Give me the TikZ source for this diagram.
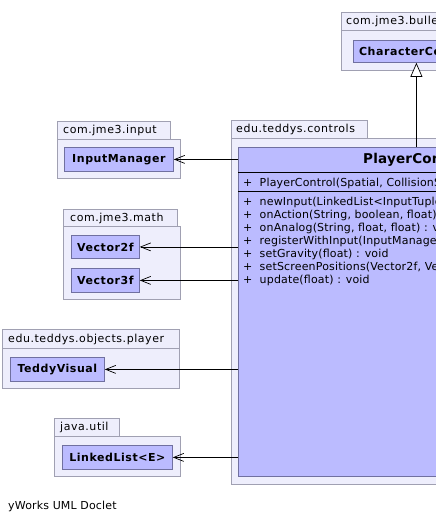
\documentclass[tikz,border=0pt]{standalone}
\usepackage{fontspec}
\setmainfont{DejaVu Sans}
\newfontfamily\umlfont[LetterSpace=5]{DejaVu Sans}
\newfontfamily\memfont[LetterSpace=1.5]{DejaVu Sans}
\usetikzlibrary{arrows.meta}
\definecolor{pkgfill}{RGB}{238,238,252}
\definecolor{pkgdraw}{RGB}{160,160,178}
\definecolor{clsfill}{RGB}{187,187,255}
\definecolor{clsdraw}{RGB}{112,112,160}
\begin{document}
\begin{tikzpicture}[x=1pt,y=-1pt,
 pkg/.style={draw=pkgdraw, fill=pkgfill, line width=0.8pt},
 pkgtxt/.style={anchor=west, inner sep=0pt, font=\umlfont\fontsize{11}{12}\selectfont},
 cls/.style={draw=clsdraw, fill=clsfill, line width=0.8pt, anchor=north west, inner sep=0pt, font=\umlfont\bfseries\fontsize{11}{12}\selectfont},
 dep/.style={-{Straight Barb[length=10pt,width=8pt]}, line width=0.7pt},
 inh/.style={-{Triangle[open,length=14pt,width=12pt,fill=white]}, line width=0.7pt},
 sep/.style={line width=0.8pt, draw=black},
 mem/.style={anchor=west, inner sep=0pt, font=\memfont\fontsize{11}{12}\selectfont}]
\useasboundingbox (0,0) rectangle (436,522);
\clip (0,0) rectangle (436,522);
\fill[white] (0,0) rectangle (436,522);

% com.jme3.bullet.control
\draw[pkg] (341,30) rectangle (500,70);
\draw[pkg] (341,12) rectangle (500,30);
\node[pkgtxt] (pbul) at (346,21) {com.jme3.bullet.control};
\node[cls, minimum width=126pt, minimum height=22pt] (cc) at (353,40) {CharacterControl};

% edu.teddys.controls
\draw[pkg] (231,138) rectangle (640,484);
\draw[pkg] (231,120) rectangle (367,138);
\node[pkgtxt] (pctl) at (236,129) {edu.teddys.controls};
\node[cls, minimum width=400pt, minimum height=329pt] (pc) at (238,147) {};
\node[anchor=west, inner sep=0pt, font=\memfont\bfseries\fontsize{13.5}{16}\selectfont] (pct) at (363,160) {PlayerControl};
\draw[sep] ([yshift=-25.5pt]pc.north west) -- ([yshift=-25.5pt]pc.north east);
\draw[sep] ([yshift=-44pt]pc.north west) -- ([yshift=-44pt]pc.north east);
\node[mem] (m0) at (243,183) {+\ \ PlayerControl(Spatial, CollisionShape, float)};
\node[mem] (m1) at (243,202) {+\ \ newInput(LinkedList<InputTuple>) : void};
\node[mem] (m2) at (243,215) {+\ \ onAction(String, boolean, float) : void};
\node[mem] (m3) at (243,228) {+\ \ onAnalog(String, float, float) : void};
\node[mem] (m4) at (243,241) {+\ \ registerWithInput(InputManager) : void};
\node[mem] (m5) at (243,254) {+\ \ setGravity(float) : void};
\node[mem] (m6) at (243,267) {+\ \ setScreenPositions(Vector2f, Vector3f) : void};
\node[mem] (m7) at (243,280) {+\ \ update(float) : void};

% com.jme3.input
\draw[pkg] (57,139) rectangle (180,178);
\draw[pkg] (57,121) rectangle (170,139);
\node[pkgtxt] (pin) at (63,130) {com.jme3.input};
\node[cls, minimum width=109pt, minimum height=24pt] (im) at (64,147) {InputManager};

% com.jme3.math
\draw[pkg] (63,226) rectangle (180,299);
\draw[pkg] (63,209) rectangle (177,226);
\node[pkgtxt] (pmath) at (70,218) {com.jme3.math};
\node[cls, minimum width=68pt, minimum height=23pt] (v2) at (71,235) {Vector2f};
\node[cls, minimum width=68pt, minimum height=24pt] (v3) at (71,268) {Vector3f};

% edu.teddys.objects.player
\draw[pkg] (2,348) rectangle (179,388);
\draw[pkg] (2,329) rectangle (179,348);
\node[pkgtxt] (ppl) at (8,339) {edu.teddys.objects.player};
\node[cls, minimum width=94pt, minimum height=24pt] (tv) at (10,357) {TeddyVisual};

% java.util
\draw[pkg] (54,436) rectangle (180,476);
\draw[pkg] (54,418) rectangle (119,436);
\node[pkgtxt] (pju) at (60,427) {java.util};
\node[cls, minimum width=110pt, minimum height=24pt] (ll) at (62,445) {LinkedList<E>};

% connectors
\draw[inh] (cc.south |- pc.north) -- (cc.south);
\draw[dep] (im.east -| pc.west) -- (im.east);
\draw[dep] (v2.east -| pc.west) -- (v2.east);
\draw[dep] (v3.east -| pc.west) -- (v3.east);
\draw[dep] (tv.east -| pc.west) -- (tv.east);
\draw[dep] (ll.east -| pc.west) -- (ll.east);

\node[anchor=west, inner sep=0pt, font=\memfont\fontsize{11}{12}\selectfont] (doclet) at (8,506) {yWorks UML Doclet};
\end{tikzpicture}
\end{document}
